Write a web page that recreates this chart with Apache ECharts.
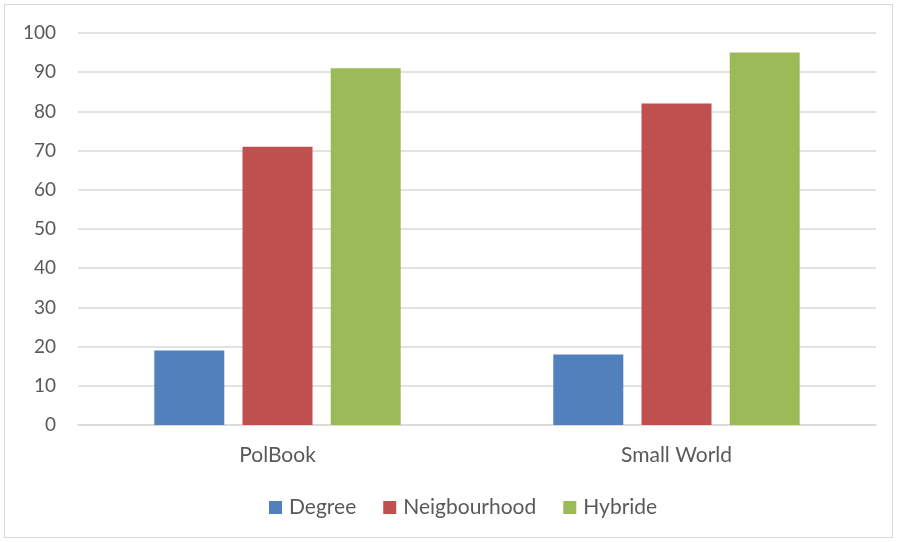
<!DOCTYPE html>
<html>
<head>
<meta charset="utf-8">
<script src="https://cdn.jsdelivr.net/npm/echarts@6/dist/echarts.min.js"></script>
<style>
  html, body { margin: 0; padding: 0; background: #fff; }
  #frame { position: absolute; left: 4px; top: 4px; width: 887px; height: 532px; border: 1.5px solid #d9d9d9; }
  #chart { position: absolute; left: 0; top: 0; width: 897px; height: 542px; }
</style>
</head>
<body>
<div id="frame"></div>
<div id="chart"></div>
<script>
// data
const categories = ['PolBook', 'Small World'];
const seriesNames = ['Degree', 'Neigbourhood', 'Hybride'];
const degree = [19, 18];
const neighbourhood = [71, 82];
const hybride = [91, 95];

const colors = ['#5181BD', '#C0504D', '#9BBB59'];
const font = 'Lato, "Open Sans", sans-serif';

let chart = echarts.init(document.getElementById('chart'));

let option = {
  animation: false,
  textStyle: { fontFamily: font },
  grid: { left: 78, right: 21, top: 33, bottom: 117 },
  legend: {
    bottom: 19,
    left: 264,
    itemWidth: 13,
    itemHeight: 13,
    itemGap: 27,
    icon: 'rect',
    textStyle: { fontSize: 21, color: '#595959', fontFamily: font, padding: [0, 0, 0, 2] },
    data: seriesNames
  },
  xAxis: {
    type: 'category',
    data: categories,
    axisLine: { lineStyle: { color: '#d9d9d9', width: 1.5 } },
    axisTick: { show: false },
    axisLabel: { fontSize: 21, color: '#595959', margin: 20, fontFamily: font }
  },
  yAxis: {
    type: 'value',
    min: 0,
    max: 100,
    interval: 10,
    axisLine: { show: false },
    axisTick: { show: false },
    splitLine: { lineStyle: { color: '#d9d9d9', width: 1.5 } },
    axisLabel: { fontSize: 19, color: '#595959', margin: 22, fontFamily: font }
  },
  series: [
    { name: seriesNames[0], type: 'bar', data: degree, barWidth: 70, barGap: '26%', itemStyle: { color: colors[0] } },
    { name: seriesNames[1], type: 'bar', data: neighbourhood, barWidth: 70, barGap: '26%', itemStyle: { color: colors[1] } },
    { name: seriesNames[2], type: 'bar', data: hybride, barWidth: 70, barGap: '26%', itemStyle: { color: colors[2] } }
  ]
};

option && chart.setOption(option);
</script>
</body>
</html>
